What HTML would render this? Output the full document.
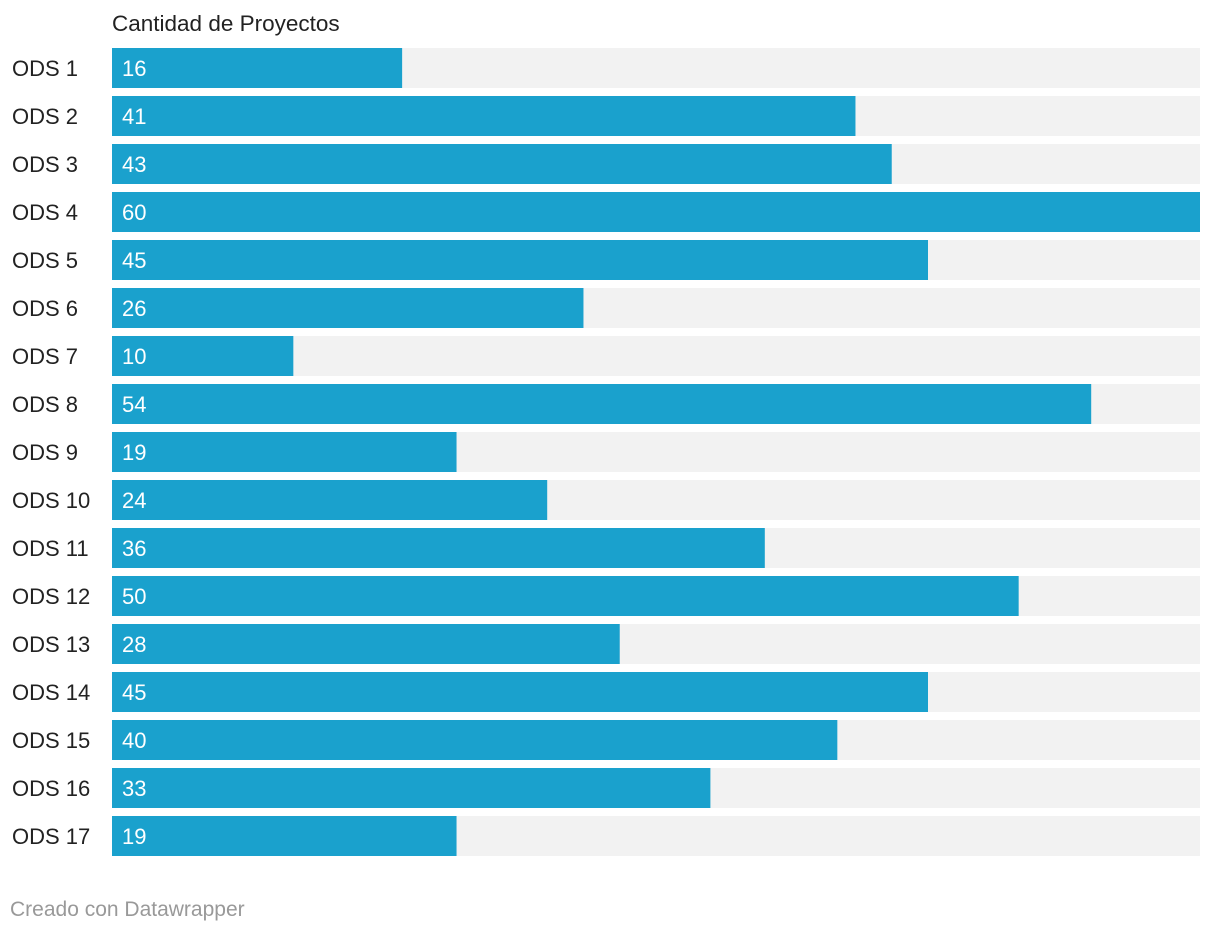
<!DOCTYPE html>
<html><head><meta charset="utf-8"><style>
body{margin:0;background:#fff;width:1220px;height:932px;overflow:hidden;font-family:"Liberation Sans",sans-serif;}
svg text{font-family:"Liberation Sans",sans-serif;}
</style></head><body>
<svg id="chart" width="1220" height="932">
<text x="112" y="31" font-size="22.5" fill="#222">Cantidad de Proyectos</text>
<text x="10" y="916" font-size="21" fill="#999">Creado con Datawrapper</text>
</svg>
<script>
const categories=["ODS 1","ODS 2","ODS 3","ODS 4","ODS 5","ODS 6","ODS 7","ODS 8","ODS 9","ODS 10","ODS 11","ODS 12","ODS 13","ODS 14","ODS 15","ODS 16","ODS 17"];
const values=[16,41,43,60,45,26,10,54,19,24,36,50,28,45,40,33,19];
const maxValue=60;
const svg=document.getElementById('chart');
const NS='http://www.w3.org/2000/svg';
const x0=112,x1=1200,top0=48,pitch=48,bh=40;
const xScale=v=>(v/maxValue)*(x1-x0);
const yScale=i=>top0+i*pitch;
function mk(tag,attrs){const e=document.createElementNS(NS,tag);for(const k in attrs)e.setAttribute(k,attrs[k]);svg.appendChild(e);return e;}
categories.forEach((c,i)=>{
  const y=yScale(i);
  const bg=mk('rect',{x:x0,y:y,width:x1-x0,height:bh,fill:'#f2f2f2'});
  
  
  const b=mk('rect',{x:x0,y:y,width:xScale(values[i]),height:bh,fill:'#1aa1cd'});
  
  
  const l=mk('text',{x:12,y:y+bh/2+8,'font-size':22,fill:'#222'});
  l.textContent=c;
  
  
  const v=mk('text',{x:x0+10,y:y+bh/2+8,'font-size':22,fill:'#fff'});
  v.textContent=values[i];
  
  
});
</script>
</body></html>
